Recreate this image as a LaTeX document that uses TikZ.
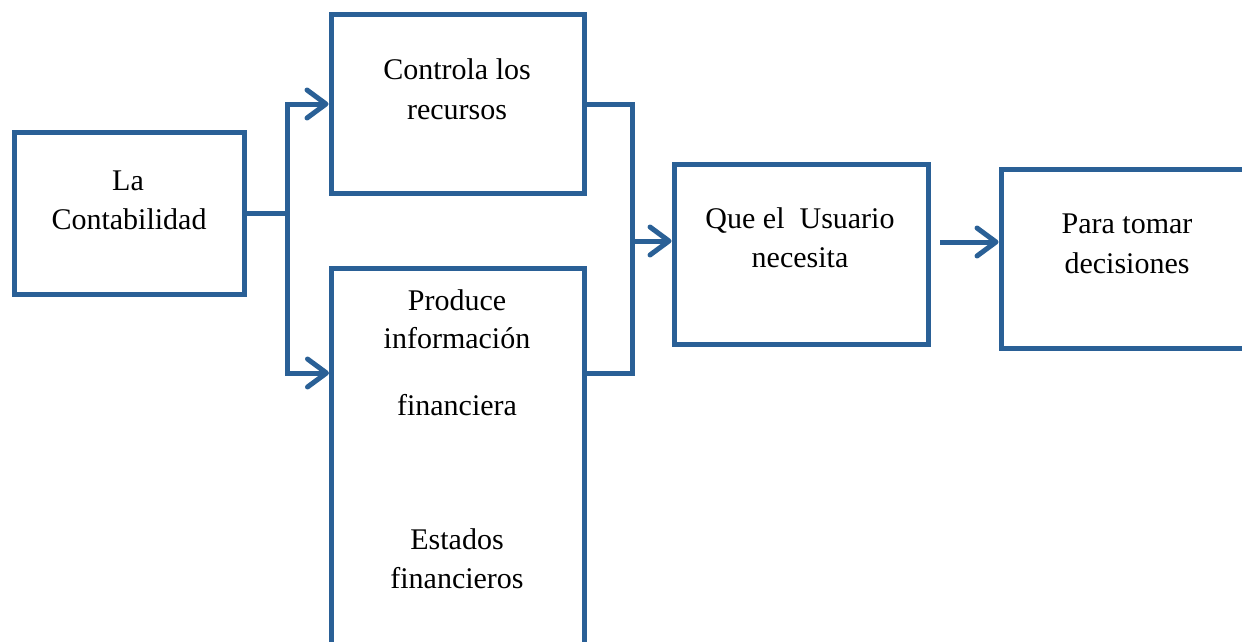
\documentclass[tikz,border=0pt]{standalone}
\usepackage{fontspec}
\setmainfont{Liberation Serif}
\usetikzlibrary{arrows.meta}
\definecolor{boxBlue}{RGB}{42,96,150}

\begin{document}
\begin{tikzpicture}[x=1pt, y=-1pt, line width=5pt, inner sep=0pt]
            \clip (0,0) rectangle (1242,642);

            \tikzstyle{myBox}=[draw=boxBlue, rectangle];
            \tikzstyle{myTxt}=[anchor=base, font=\fontsize{30}{38}\selectfont];
            \tikzstyle{myLine}=[draw=boxBlue];
            \tikzstyle{myArr}=[draw=boxBlue, -{Straight Barb[length=19pt, width=28pt, line cap=round, line join=round]}];

            % boxes
            \node[myBox, minimum width=230, minimum height=162] (la) at (129,213) {};
            \node[myBox, minimum width=253, minimum height=178] (ctrl) at (457.5,104) {};
            \node[myBox, minimum width=253, minimum height=376] (prod) at (457.5,456) {};
            \node[myBox, minimum width=254, minimum height=180] (que) at (801,254) {};
            \node[myBox, minimum width=261, minimum height=179] (para) at (1131.5,258.5) {};

            % texts
            \node[myTxt] (la1) at (128,190) {La};
            \node[myTxt] (la2) at (129,229) {Contabilidad};
            \node[myTxt] (ctrl1) at (457,80) {Controla los};
            \node[myTxt] (ctrl2) at (457,119) {recursos};
            \node[myTxt] (prod1) at (457,310) {Produce};
            \node[myTxt] (prod2) at (457,348) {información};
            \node[myTxt] (prod3) at (457,415) {financiera};
            \node[myTxt] (prod4) at (457,549) {Estados};
            \node[myTxt] (prod5) at (457,588) {financieros};
            \node[myTxt] (que1) at (800,228) {Que el\ \ Usuario};
            \node[myTxt] (que2) at (800,267) {necesita};
            \node[myTxt] (para1) at (1127,233) {Para tomar};
            \node[myTxt] (para2) at (1127,273) {decisiones};

            % connectors
            \coordinate (j1) at (287,213);
            \coordinate (p1) at (329,373);
            \draw[myLine] (la.east) -- (j1);
            \draw[myArr] (j1) |- (ctrl.west);
            \draw[myArr] (j1) |- (p1);

            \coordinate (j2) at (632,241);
            \coordinate (p2) at (586.5,373);
            \draw[myLine] (ctrl.east) -| (j2);
            \draw[myLine] (p2) -| (j2);
            \draw[myArr] (j2) -- (que.west |- j2);

            \coordinate (a1) at (940,242);
            \draw[myArr] (a1) -- (para.west |- a1);
\end{tikzpicture}
\end{document}
